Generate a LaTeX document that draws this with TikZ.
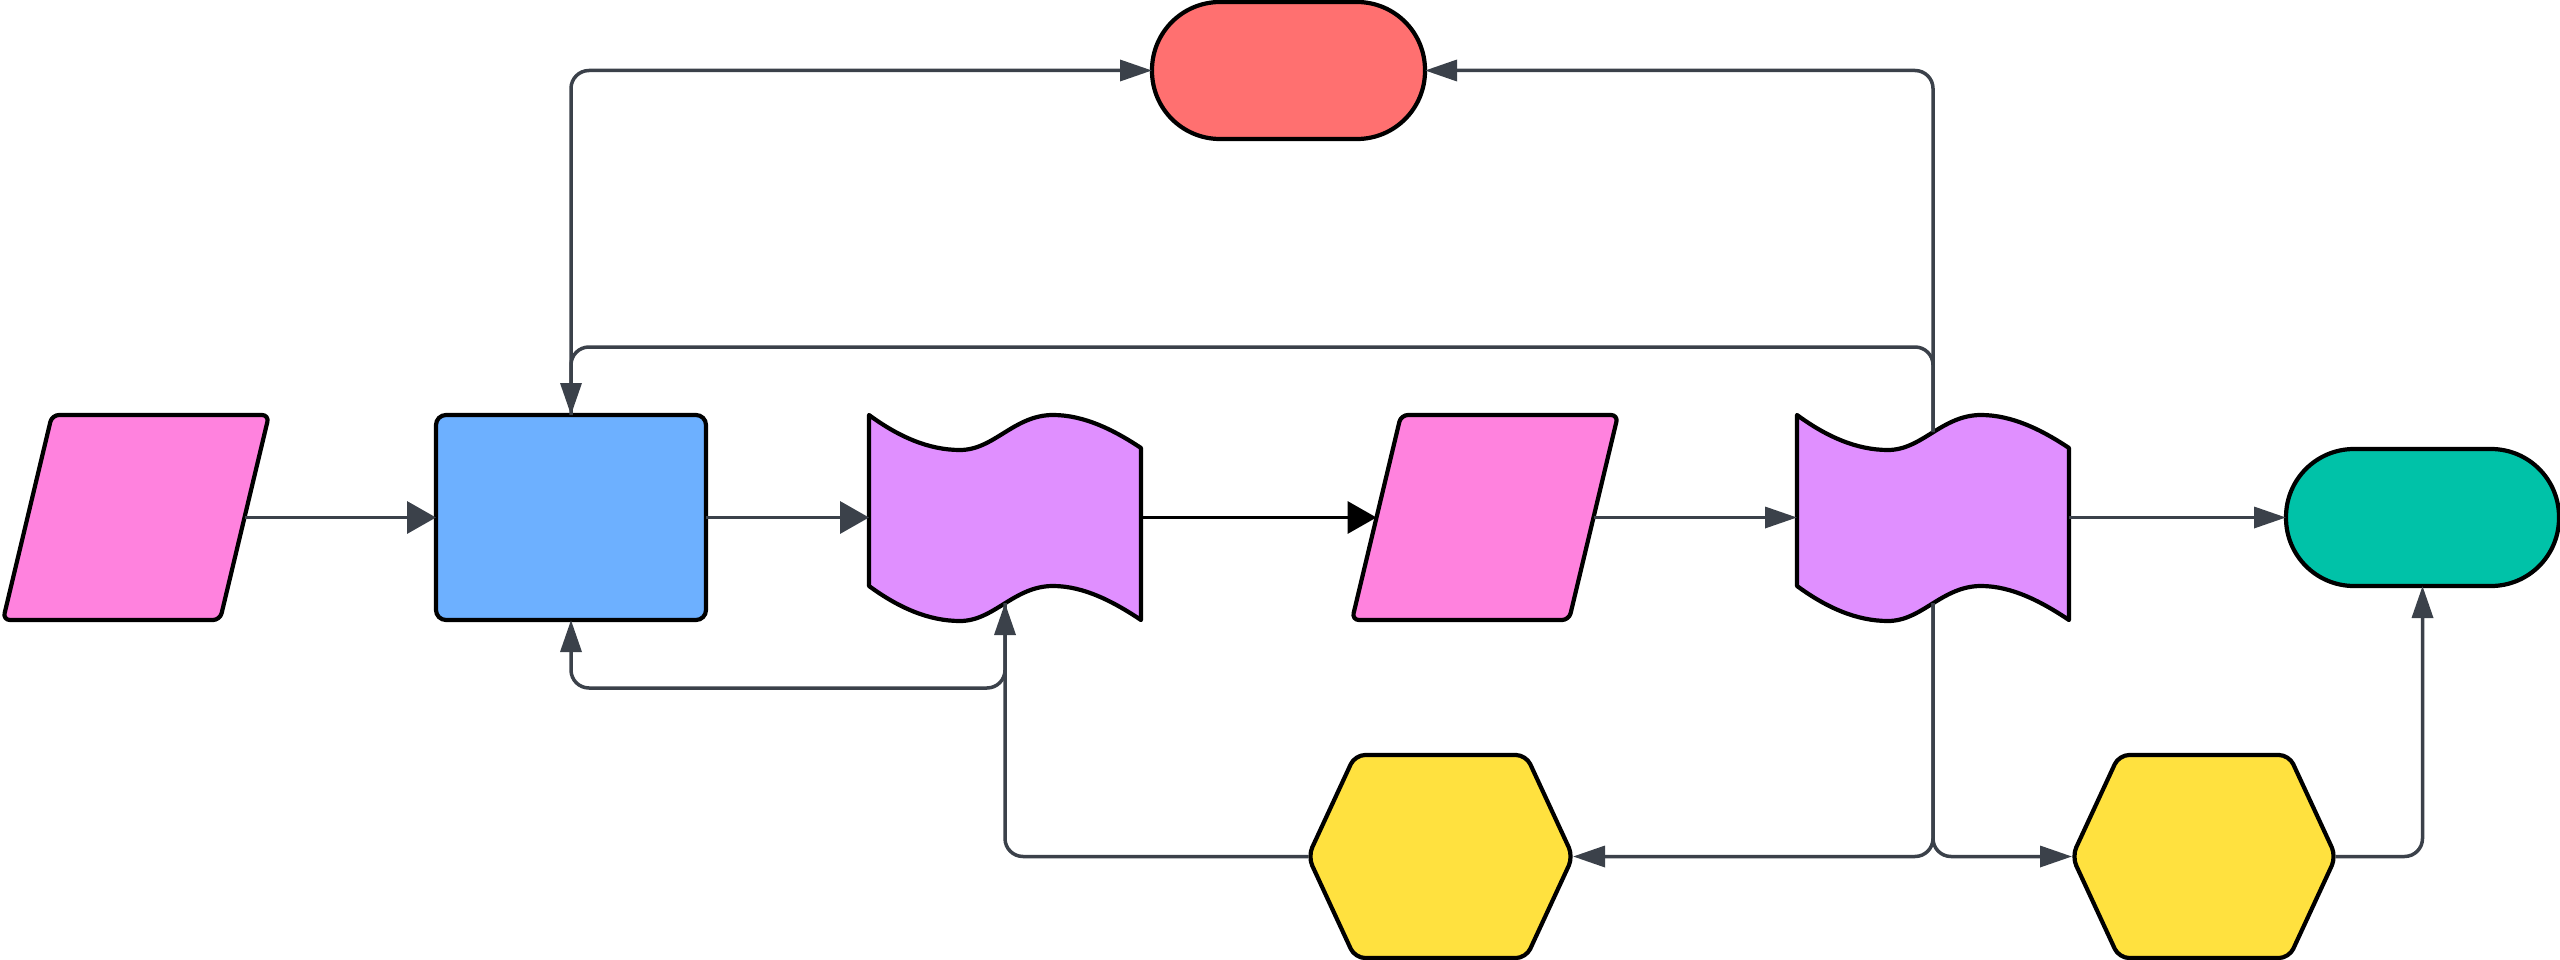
\documentclass[tikz,border=0pt]{standalone}
\usetikzlibrary{arrows.meta,calc}
\definecolor{pinkc}{HTML}{FF82DE}
\definecolor{bluec}{HTML}{6DB0FF}
\definecolor{purplec}{HTML}{E08FFF}
\definecolor{redc}{HTML}{FF7070}
\definecolor{greenc}{HTML}{00C2A8}
\definecolor{yellowc}{HTML}{FFE13F}
\definecolor{linec}{HTML}{3B414A}
\tikzset{
  shapeline/.style={draw=black, line width=4.2pt, line join=round},
  frame/.style 2 args={rectangle, draw=none, inner sep=0pt, outer sep=0pt, minimum width=#1, minimum height=#2},
  term/.style={shapeline, rectangle, rounded corners=68pt, minimum width=273pt, minimum height=137pt, inner sep=0pt, outer sep=0pt},
  procbox/.style={shapeline, rectangle, rounded corners=10pt, minimum width=270pt, minimum height=205pt, inner sep=0pt, outer sep=0pt},
  conn/.style={draw=linec, line width=3.5pt, rounded corners=18pt},
  wide/.style={-{Triangle[length=29pt,width=32pt]}},
  narrow/.style={-{Triangle[length=32pt,width=21pt]}},
  paraline/.style={shapeline, fill=pinkc, rounded corners=7pt},
  hexline/.style={shapeline, fill=yellowc, rounded corners=10pt},
  tapeline/.style={shapeline, fill=purplec},
}
\newcommand\drawpara[1]{%
  \filldraw[paraline] ([xshift=49pt]#1.north west) -- (#1.north east) -- ([xshift=-49pt]#1.south east) -- (#1.south west) -- cycle;}
\newcommand\drawhex[1]{%
  \filldraw[hexline] (#1.west) -- ([xshift=47pt]#1.north west) -- ([xshift=-47pt]#1.north east) -- (#1.east) -- ([xshift=-47pt]#1.south east) -- ([xshift=47pt]#1.south west) -- cycle;}
\newcommand\drawtape[1]{%
  \filldraw[tapeline, shift={(#1.north west)}]
  (0,0) .. controls (30,22) and (60,35) .. (91,35) .. controls (125,35) and (145,0) .. (184,0) .. controls (215,0) and (245,15) .. (272,33)
  -- (272,205) .. controls (245,187) and (215,171) .. (184,171) .. controls (145,171) and (125,206) .. (91,206) .. controls (60,206) and (30,193) .. (0,171) -- cycle;}
\begin{document}
\begin{tikzpicture}[x=1pt,y=-1pt]
\useasboundingbox (0,0) rectangle (2560,960);
% frames and shapes
\node[frame={266pt}{205pt}] (in1) at (136,517.5) {};
\drawpara{in1}
\node[procbox, fill=bluec] (proc) at (571,517.5) {};
\node[frame={272pt}{205pt}] (tape1) at (1005,517.5) {};
\drawtape{tape1}
\node[frame={266pt}{205pt}] (in2) at (1485,517.5) {};
\drawpara{in2}
\node[frame={272pt}{205pt}] (tape2) at (1933,517.5) {};
\drawtape{tape2}
\node[term, fill=greenc] (term2) at (2422.5,517.5) {};
\node[term, fill=redc] (term1) at (1288.5,70.5) {};
\node[frame={265pt}{203pt}] (hex1) at (1440.5,856.5) {};
\drawhex{hex1}
\node[frame={264pt}{203pt}] (hex2) at (2204,856.5) {};
\drawhex{hex2}
\coordinate (lvlA) at (0,347);
\coordinate (lvlB) at (0,688);
% main row
\draw[conn, wide] ([xshift=-24.5pt]in1.east) -- (proc.west);
\draw[conn, wide] (proc.east) -- (tape1.west);
\draw[conn, wide, draw=black] (tape1.east) -- ([xshift=24.5pt]in2.west);
\draw[conn, narrow] ([xshift=-24.5pt]in2.east) -- (tape2.west);
\draw[conn, narrow] (tape2.east) -- (term2.west);
% upper loops
\draw[conn, narrow] (proc.north) |- (term1.west);
\draw[conn, narrow] ([yshift=-17pt]tape2.north) |- (term1.east);
\draw[conn, narrow] ([yshift=-17pt]tape2.north) -- (tape2.north |- lvlA) -| (proc.north);
% lower loops
\draw[conn, narrow] ([yshift=17pt]tape1.south) -- (tape1.south |- lvlB) -| (proc.south);
\draw[conn, narrow] (hex1.west) -| ([yshift=17pt]tape1.south);
\draw[conn, narrow] ([yshift=17pt]tape2.south) |- (hex1.east);
\draw[conn, narrow] ([yshift=17pt]tape2.south) |- (hex2.west);
\draw[conn, narrow] (hex2.east) -| (term2.south);
\end{tikzpicture}
\end{document}
